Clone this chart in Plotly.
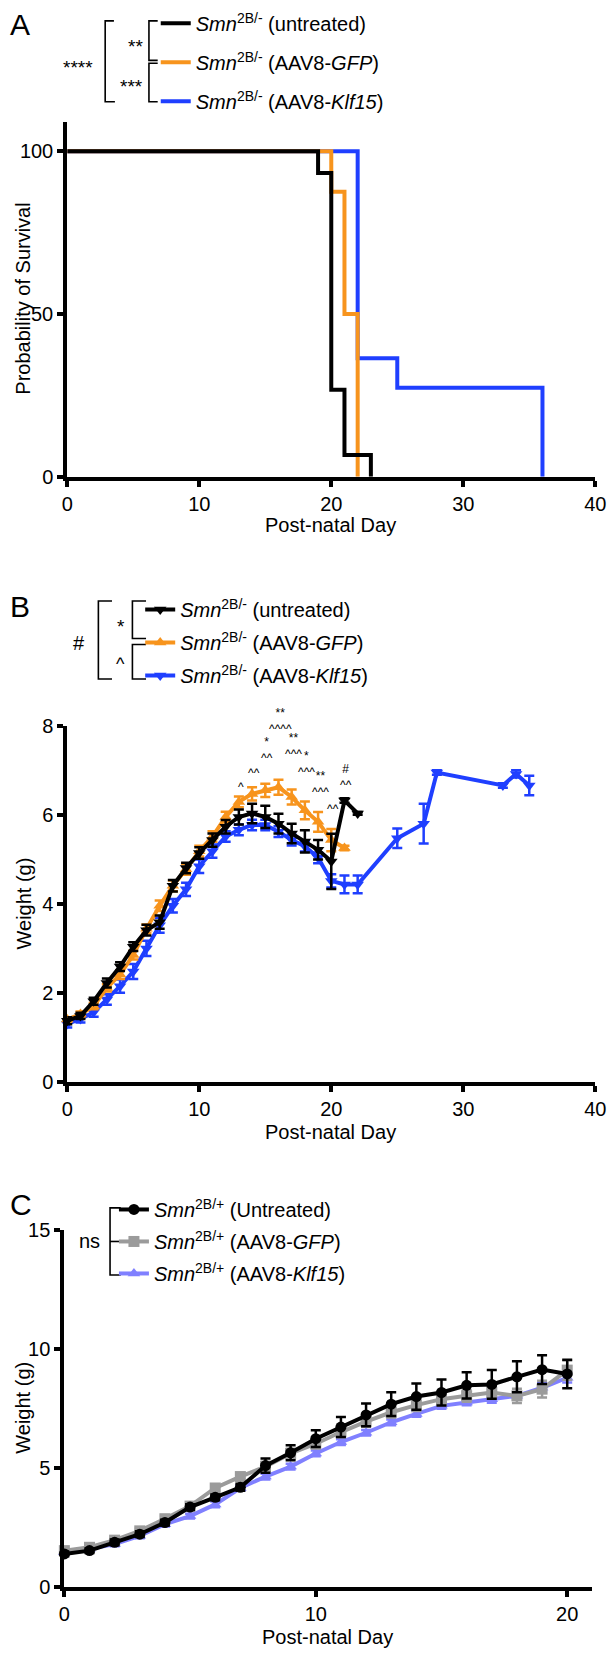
import plotly.graph_objects as go

W, H = 616, 1659
FONT = "Arial, Liberation Sans, sans-serif"

BLACK = "#000000"
ORANGE = "#f7941d"
BLUE = "#1f3fff"
GREY = "#9b9b9b"
LAVENDER = "#8080ff"

# ---------------- Panel A: survival (%) ----------------
surv_untreated_day = [0, 19, 20, 21, 23]
surv_untreated_pct = [100, 93.3, 26.7, 6.7, 0]
surv_gfp_day = [0, 20, 21, 22]
surv_gfp_pct = [100, 87.5, 50, 0]
surv_klf15_day = [0, 22, 25, 36]
surv_klf15_pct = [100, 36.4, 27.3, 0]

# ---------------- Panel B: Smn2B/- weights (g) ----------------
b_untreated_day = [0, 1, 2, 3, 4, 5, 6, 7, 8, 9, 10, 11, 12, 13, 14, 15, 16, 17, 18, 19, 20, 21, 22]
b_untreated_wt = [1.37, 1.48, 1.81, 2.22, 2.59, 3.04, 3.41, 3.59, 4.41, 4.81, 5.15, 5.44, 5.74, 5.96,
                  6.04, 5.96, 5.81, 5.59, 5.41, 5.22, 4.96, 6.33, 6.04]
b_untreated_sem = [0.08, 0.07, 0.08, 0.1, 0.1, 0.1, 0.12, 0.15, 0.13, 0.12, 0.13, 0.15, 0.15, 0.17,
                   0.22, 0.25, 0.22, 0.22, 0.25, 0.22, 0.62, 0.05, 0.03]

b_gfp_day = [0, 1, 2, 3, 4, 5, 6, 7, 8, 9, 10, 11, 12, 13, 14, 15, 16, 17, 18, 19, 20, 21]
b_gfp_wt = [1.40, 1.52, 1.70, 2.11, 2.41, 2.85, 3.44, 3.96, 4.41, 4.78, 5.19, 5.52, 5.96, 6.30,
            6.48, 6.56, 6.63, 6.41, 6.11, 5.85, 5.44, 5.26]
b_gfp_sem = [0.05, 0.06, 0.07, 0.08, 0.1, 0.1, 0.1, 0.12, 0.12, 0.12, 0.12, 0.12, 0.12, 0.12,
             0.15, 0.15, 0.17, 0.17, 0.2, 0.22, 0.25, 0.05]

b_klf15_day = [0, 1, 2, 3, 4, 5, 6, 7, 8, 9, 10, 11, 12, 13, 14, 15, 16, 17, 18, 19, 20, 21, 22,
               25, 27, 28, 33, 34, 35]
b_klf15_wt = [1.30, 1.41, 1.56, 1.85, 2.15, 2.48, 3.00, 3.52, 3.96, 4.33, 4.85, 5.19, 5.52, 5.67,
              5.78, 5.78, 5.63, 5.44, 5.30, 5.04, 4.52, 4.44, 4.44, 5.48, 5.81, 6.96, 6.67, 6.93, 6.67]
b_klf15_sem = [0.08, 0.08, 0.1, 0.12, 0.15, 0.17, 0.17, 0.17, 0.15, 0.15, 0.15, 0.15, 0.12, 0.12,
               0.12, 0.12, 0.12, 0.12, 0.12, 0.12, 0.15, 0.2, 0.2, 0.22, 0.45, 0.05, 0.05, 0.08, 0.22]

# significance marks above panel B, one stack per day (day, level of lowest line, label)
b_sig_day = [13, 14, 15, 16, 17, 18, 19, 20, 21]
b_sig_base = [6.63, 6.94, 7.28, 7.93, 7.37, 6.98, 6.52, 6.15, 6.69]
b_sig_label = ["^", "^^", "*<br>^^", "**<br>^^^^", "**<br>^^^", "*<br>^^^", "**<br>^^^", "^^", "#<br>^^"]

# ---------------- Panel C: Smn2B/+ weights (g) ----------------
c_day = [0, 1, 2, 3, 4, 5, 6, 7, 8, 9, 10, 11, 12, 13, 14, 15, 16, 17, 18, 19, 20]
c_untreated_wt = [1.38, 1.52, 1.87, 2.21, 2.70, 3.35, 3.76, 4.18, 5.09, 5.63, 6.22, 6.71, 7.22, 7.67,
                  7.99, 8.16, 8.46, 8.50, 8.82, 9.12, 8.94]
c_untreated_sem = [0.1, 0.1, 0.12, 0.12, 0.12, 0.12, 0.12, 0.15, 0.3, 0.32, 0.35, 0.42, 0.48, 0.5,
                   0.55, 0.55, 0.55, 0.6, 0.65, 0.6, 0.6]
c_gfp_wt = [1.52, 1.66, 1.96, 2.35, 2.86, 3.39, 4.15, 4.63, 5.05, 5.60, 6.01, 6.50, 6.94, 7.33,
            7.63, 7.88, 8.02, 8.16, 8.02, 8.30, 9.10]
c_gfp_sem = [0.1, 0.1, 0.1, 0.1, 0.12, 0.12, 0.15, 0.15, 0.2, 0.2, 0.2, 0.22, 0.22, 0.22,
             0.25, 0.25, 0.25, 0.25, 0.3, 0.35, 0.4]
c_klf15_wt = [1.45, 1.59, 1.80, 2.14, 2.63, 2.97, 3.46, 4.15, 4.63, 5.05, 5.60, 6.08, 6.47, 6.91,
              7.26, 7.60, 7.74, 7.88, 8.02, 8.36, 8.78]
c_klf15_sem = [0.08, 0.08, 0.1, 0.1, 0.1, 0.1, 0.12, 0.12, 0.12, 0.12, 0.12, 0.12, 0.12, 0.12,
               0.12, 0.12, 0.12, 0.15, 0.15, 0.2, 0.2]

LBL_KO = "<i>Smn</i><sup>2B/-</sup> "
LBL_HET = "<i>Smn</i><sup>2B/+</sup> "


def fx(x):
    return x / W


def fy(y):
    return 1 - y / H


fig = go.Figure()


def add_series(x, y, err, color, name, xa, ya, legend, rank, symbol=None, shape="linear"):
    mode = "lines+markers" if symbol else "lines"
    tr = dict(x=x, y=y, mode=mode, name=name, legend=legend, legendgroup=name, legendrank=rank,
              line=dict(color=color, width=4, shape=shape),
              xaxis=xa, yaxis=ya, cliponaxis=False)
    if symbol:
        tr["marker"] = dict(symbol=symbol, size=11, color=color)
    if err is not None:
        tr["error_y"] = dict(type="data", array=err, color=color, thickness=2.5, width=5)
    fig.add_trace(go.Scatter(**tr))


# panel A
add_series(surv_klf15_day, surv_klf15_pct, None, BLUE, LBL_KO + "(AAV8-<i>Klf15</i>)", "x", "y", "legend", 3, shape="hv")
add_series(surv_gfp_day, surv_gfp_pct, None, ORANGE, LBL_KO + "(AAV8-<i>GFP</i>)", "x", "y", "legend", 2, shape="hv")
add_series(surv_untreated_day, surv_untreated_pct, None, BLACK, LBL_KO + "(untreated)", "x", "y", "legend", 1, shape="hv")

# panel B
add_series(b_klf15_day, b_klf15_wt, b_klf15_sem, BLUE, LBL_KO + "(AAV8-<i>Klf15</i>) ", "x2", "y2", "legend2", 3, "triangle-down")
add_series(b_gfp_day, b_gfp_wt, b_gfp_sem, ORANGE, LBL_KO + "(AAV8-<i>GFP</i>) ", "x2", "y2", "legend2", 2, "triangle-up")
add_series(b_untreated_day, b_untreated_wt, b_untreated_sem, BLACK, LBL_KO + "(untreated) ", "x2", "y2", "legend2", 1, "triangle-down")

# panel C
add_series(c_day, c_klf15_wt, c_klf15_sem, LAVENDER, LBL_HET + "(AAV8-<i>Klf15</i>)", "x3", "y3", "legend3", 3, "triangle-up")
add_series(c_day, c_gfp_wt, c_gfp_sem, GREY, LBL_HET + "(AAV8-<i>GFP</i>)", "x3", "y3", "legend3", 2, "square")
add_series(c_day, c_untreated_wt, c_untreated_sem, BLACK, LBL_HET + "(Untreated)", "x3", "y3", "legend3", 1, "circle")

for sig_x, sig_y, sig_t in zip(b_sig_day, b_sig_base, b_sig_label):
    fig.add_annotation(x=sig_x, y=sig_y, text=sig_t, xref="x2", yref="y2", showarrow=False,
                       yanchor="bottom", yshift=-9, xshift=2,
                       font=dict(size=12, color=BLACK, family=FONT))


def axis(**kw):
    d = dict(showline=True, linewidth=4, linecolor=BLACK, ticks="outside", ticklen=6, tickwidth=4,
             tickcolor=BLACK, showgrid=False, zeroline=False, tickfont=dict(size=20, color=BLACK),
             ticklabeloverflow="allow", fixedrange=True)
    d.update(kw)
    return d


def legend(ymid, xleft, gap):
    return dict(x=fx(xleft), y=fy(ymid), xanchor="left", yanchor="middle", bgcolor="rgba(0,0,0,0)",
                font=dict(size=20, family=FONT, color=BLACK), traceorder="grouped",
                tracegroupgap=gap, itemwidth=30)


fig.update_layout(
    width=W, height=H, margin=dict(l=0, r=0, t=0, b=0),
    plot_bgcolor="white", paper_bgcolor="white",
    font=dict(family=FONT, color=BLACK),
    xaxis=axis(domain=[fx(63), fx(606)], range=[0, 40], tickvals=[0, 10, 20, 30, 40], anchor="y"),
    yaxis=axis(domain=[fy(472), fy(112)], range=[0, 109.1], tickvals=[0, 50, 100], anchor="x"),
    xaxis2=axis(domain=[fx(63), fx(606)], range=[0, 40], tickvals=[0, 10, 20, 30, 40], anchor="y2"),
    yaxis2=axis(domain=[fy(1085), fy(725)], range=[0, 8], tickvals=[0, 2, 4, 6, 8], anchor="x2"),
    xaxis3=axis(domain=[fx(60), fx(603)], range=[0, 21], tickvals=[0, 10, 20], anchor="y3"),
    yaxis3=axis(domain=[fy(1597), fy(1235)], range=[0, 15], tickvals=[0, 5, 10, 15], anchor="x3"),
    legend=legend(52, 154, 10),
    legend2=legend(640, 138, 4),
    legend3=legend(1247, 111, 3),
)


def text(xp, yp, s, size=20, anchor="center", angle=0):
    fig.add_annotation(x=fx(xp), y=fy(yp), xref="paper", yref="paper", text=s, showarrow=False,
                       xanchor=anchor, yanchor="middle", textangle=angle,
                       font=dict(size=size, family=FONT, color=BLACK))


# panel letters
text(2, 14, "A", 30, "left")
text(2, 604, "B", 30, "left")
text(2, 1210, "C", 30, "left")

# axis titles
text(18, 292, "Probability of Survival", 20, angle=-90)
text(18, 905, "Weight (g)", 20, angle=-90)
text(18, 1416, "Weight (g)", 20, angle=-90)
text(334, 521, "Post-natal Day", 20)
text(334, 1136, "Post-natal Day", 20)
text(331, 1648, "Post-natal Day", 20)


def bracket(path_pts):
    path = "M" + " L".join(f"{fx(x):.5f},{fy(y):.5f}" for x, y in path_pts)
    fig.add_shape(type="path", path=path, xref="paper", yref="paper",
                  line=dict(color=BLACK, width=1.6))


# panel A comparison brackets
bracket([(111, 10), (102, 10), (102, 92), (112, 92)])
bracket([(156, 10), (147, 10), (147, 50), (156, 50)])
bracket([(156, 53), (147, 53), (147, 92), (156, 92)])
text(92, 57, "****", 19, "right")
text(143, 36, "**", 19, "right")
text(143, 77, "***", 19, "right")

# panel B comparison brackets
bracket([(109, 598), (95, 598), (95, 677), (109, 677)])
bracket([(144, 598), (130, 598), (130, 636), (144, 636)])
bracket([(144, 642), (130, 642), (130, 677), (144, 677)])
text(75, 640, "#", 20)
text(118, 624, "*", 19)
text(118, 662, "^", 18)

# panel C bracket
bracket([(118, 1213), (107, 1213), (107, 1281), (118, 1281)])
bracket([(107, 1247), (118, 1247)])
text(86, 1247, "ns", 20)

fig.write_html("out.html", post_script="document.body.style.margin='0';",
               config={"displayModeBar": False})
